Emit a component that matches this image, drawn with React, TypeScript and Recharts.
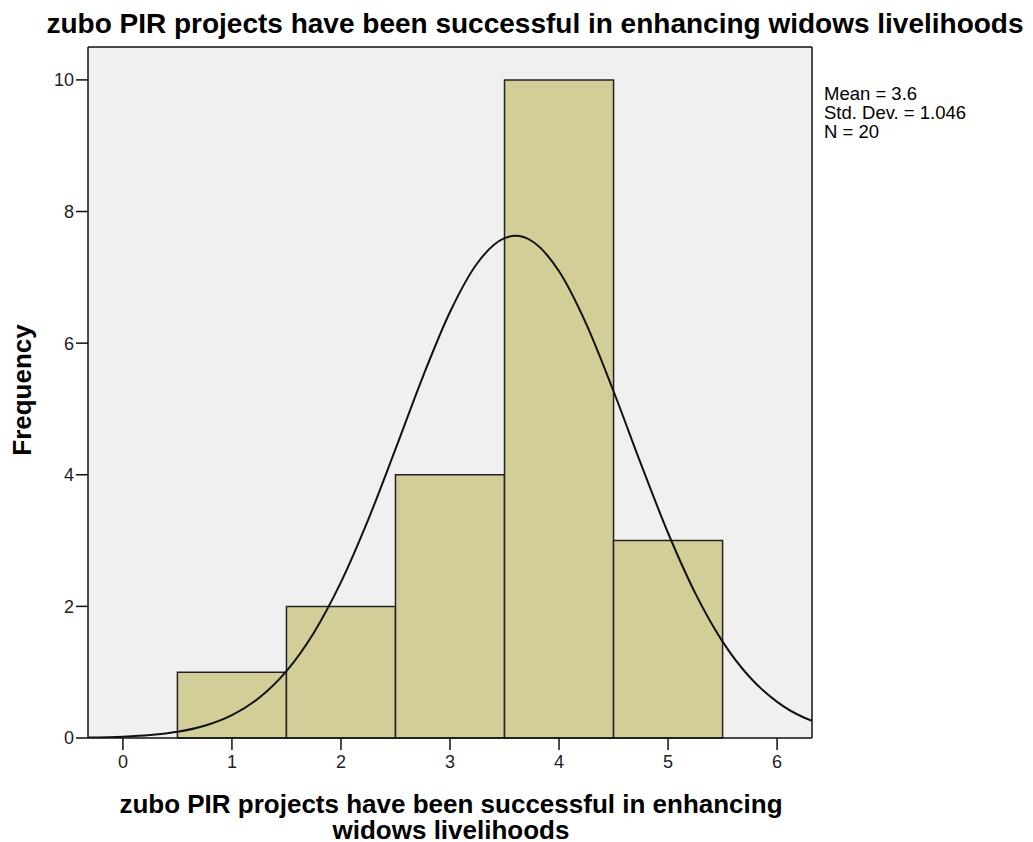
import React from 'react';
import { ComposedChart, Line, XAxis, YAxis, ReferenceArea, ReferenceLine, CartesianGrid, Customized } from 'recharts';

const binStarts = [0.5, 1.5, 2.5, 3.5, 4.5];
const binEnds = [1.5, 2.5, 3.5, 4.5, 5.5];
const frequencies = [1, 2, 4, 10, 3];

const curveX = [-0.32, 0, 0.25, 0.5, 0.75, 1, 1.25, 1.5, 1.75, 2, 2.25, 2.5, 2.75, 3, 3.25, 3.5, 3.6, 3.75, 4, 4.25, 4.5, 4.75, 5, 5.25, 5.5, 5.75, 6, 6.25, 6.32];
const curveY = [0.007, 0.02, 0.045, 0.094, 0.186, 0.347, 0.611, 1.017, 1.597, 2.368, 3.318, 4.389, 5.485, 6.473, 7.214, 7.595, 7.63, 7.552, 7.092, 6.29, 5.269, 4.169, 3.115, 2.198, 1.465, 0.923, 0.549, 0.308, 0.262];

const xTicks = [0, 1, 2, 3, 4, 5, 6];
const yTicks = [0, 2, 4, 6, 8, 10];
const xDomain = [-0.32, 6.32];
const yDomain = [0, 10.5];

const titleText = 'zubo PIR projects have been successful in enhancing widows livelihoods';
const xLabelLines = ['zubo PIR projects have been successful in enhancing', 'widows livelihoods'];
const yLabelText = 'Frequency';
const statsLines = ['Mean = 3.6', 'Std. Dev. = 1.046', 'N = 20'];

const curveData = curveX.map((x, i) => ({ x, y: curveY[i] }));

const FONT = '"Liberation Sans", Arial, sans-serif';

const Overlay = () => (
  <g>
    <text x={535} y={33} textAnchor="middle" fontFamily={FONT} fontWeight="bold" fontSize={28} fill="#000">{titleText}</text>
    {statsLines.map((s, i) => (
      <text key={i} x={824} y={100 + i * 19} fontFamily={FONT} fontSize={18.5} fill="#000">{s}</text>
    ))}
    {xLabelLines.map((s, i) => (
      <text key={'x' + i} x={451} y={813 + i * 26} textAnchor="middle" fontFamily={FONT} fontWeight="bold" fontSize={26} fill="#000">{s}</text>
    ))}
    <text x={31} y={390} transform="rotate(-90 31 390)" textAnchor="middle" fontFamily={FONT} fontWeight="bold" fontSize={26} fill="#000">{yLabelText}</text>
  </g>
);

export default function App() {
  return (
    <div style={{ position: 'absolute', left: 0, top: 0, width: 1033, height: 842, background: '#fff' }}>
      <ComposedChart width={1033} height={842} data={curveData} margin={{ top: 47, right: 221, left: 0, bottom: 74 }}>
        <CartesianGrid fill="#f0f0f0" horizontal={false} vertical={false} />
        <XAxis
          dataKey="x"
          type="number"
          domain={xDomain}
          ticks={xTicks}
          allowDataOverflow
          height={30}
          axisLine={{ stroke: '#111', strokeWidth: 1.5 }}
          tickLine={{ stroke: '#111', strokeWidth: 1.5 }}
          tickSize={12}
          tickMargin={5}
          tick={{ fill: '#222', fontSize: 18, fontFamily: FONT }}
        />
        <YAxis
          type="number"
          domain={yDomain}
          ticks={yTicks}
          allowDataOverflow
          width={88}
          axisLine={{ stroke: '#111', strokeWidth: 1.5 }}
          tickLine={{ stroke: '#111', strokeWidth: 1.5 }}
          tickSize={12}
          tickMargin={2}
          tick={{ fill: '#222', fontSize: 18, fontFamily: FONT }}
        />
        {frequencies.map((f, i) => (
          <ReferenceArea key={i} x1={binStarts[i]} x2={binEnds[i]} y1={0} y2={f} fill="#d3ce97" fillOpacity={1} stroke="#222" strokeWidth={1.5} />
        ))}
        <ReferenceLine y={yDomain[1]} stroke="#111" strokeWidth={1.5} />
        <ReferenceLine x={xDomain[1]} stroke="#111" strokeWidth={1.5} />
        <Line dataKey="y" type="monotone" stroke="#111" strokeWidth={2} dot={false} isAnimationActive={false} />
        <Customized component={Overlay} />
      </ComposedChart>
    </div>
  );
}
